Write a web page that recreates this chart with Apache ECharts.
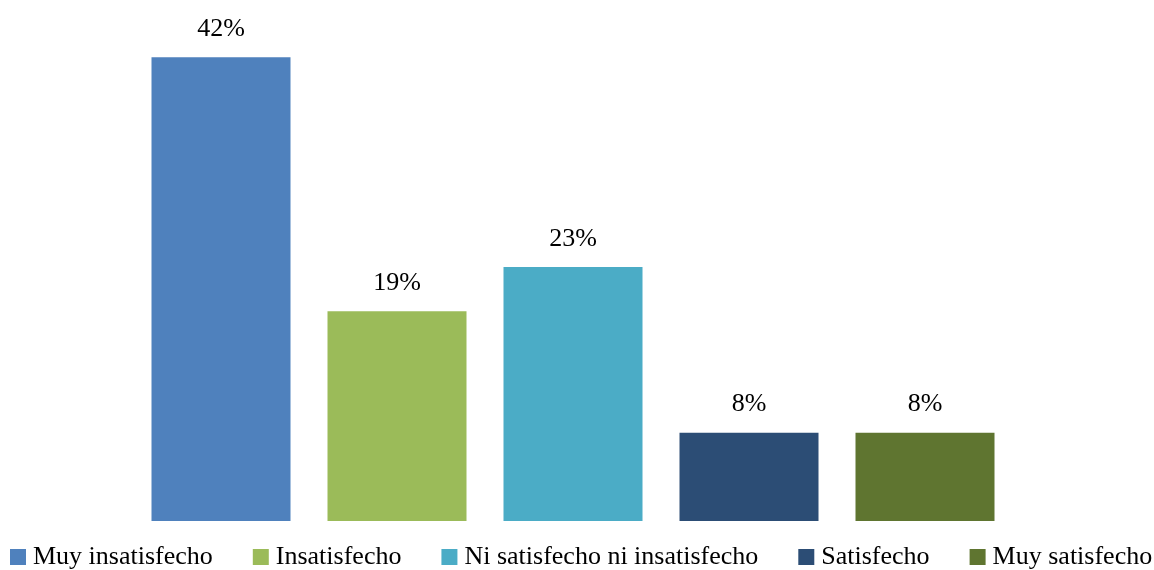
<!DOCTYPE html>
<html>
<head>
<meta charset="utf-8">
<script src="https://cdn.jsdelivr.net/npm/echarts@6/dist/echarts.min.js"></script>
<style>
html, body { margin: 0; padding: 0; background: #fff; }
#main { width: 1154px; height: 570px; }
</style>
</head>
<body>
<div id="main"></div>
<script>
var categories = ['Muy insatisfecho', 'Insatisfecho', 'Ni satisfecho ni insatisfecho', 'Satisfecho', 'Muy satisfecho'];
var values = [42, 19, 23, 8, 8];
var colors = ['#4F81BD', '#9BBB59', '#4BACC6', '#2C4D75', '#5F7530'];

var fontFamily = '"Liberation Serif", "DejaVu Serif", serif';

var myChart = echarts.init(document.getElementById('main'));

// one series per category so the legend gets one entry each
var series = categories.map(function (name, i) {
	var data = categories.map(function (c, j) {
		return j === i ? values[i] : '-';
	});
	return {
		name: name,
		type: 'bar',
		barWidth: 139,
		barGap: '-100%',
		itemStyle: { color: colors[i] },
		label: {
			show: true,
			position: 'top',
			distance: 15,
			color: '#000',
			fontFamily: fontFamily,
			fontSize: 26,
			formatter: '{c}%'
		},
		data: data
	};
});

var option = {
	animation: false,
	grid: {
		left: 133,
		width: 880,
		top: 24,
		height: 497
	},
	legend: {
		left: 10,
		top: 544,
		padding: 0,
		icon: 'rect',
		itemWidth: 16,
		itemHeight: 16,
		itemGap: 40,
		textStyle: {
			color: '#000',
			fontFamily: fontFamily,
			fontSize: 26,
			padding: [0, 0, 0, 2]
		},
		data: categories
	},
	xAxis: {
		type: 'category',
		data: categories,
		axisLine: { show: false },
		axisTick: { show: false },
		axisLabel: { show: false }
	},
	yAxis: {
		type: 'value',
		min: 0,
		max: 45,
		show: false,
		splitLine: { show: false }
	},
	series: series
};
myChart.setOption(option);
</script>
</body>
</html>
